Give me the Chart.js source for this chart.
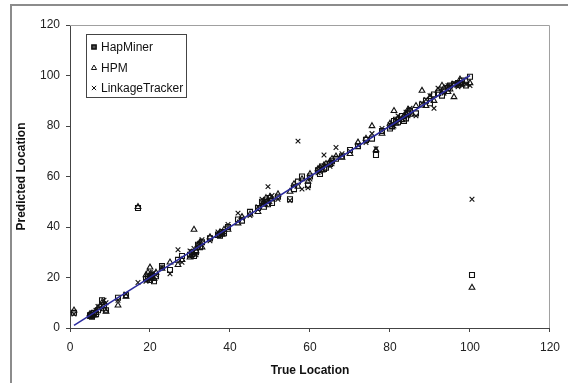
<!DOCTYPE html>
<html>
<head>
<meta charset="utf-8">
<script src="https://cdn.jsdelivr.net/npm/chart.js@4.4.0/dist/chart.umd.min.js"></script>
<style>
  html, body { margin: 0; padding: 0; background: #fff; overflow: hidden; }
  #wrap { width: 568px; height: 383px; position: relative; }
</style>
</head>
<body>
<div id="wrap"><canvas id="chart" width="568" height="383"></canvas></div>
<script>
// true locations of the simulated disease loci
const trueLocation = [1, 5, 5.2, 5.5, 6, 6.5, 7, 8, 8.5, 9,
  12, 14, 17, 19, 19.5, 20, 20.2, 20.5, 21, 21.5,
  23, 25, 27, 28, 30, 30.5, 31, 31.5, 32, 32.5,
  33, 35, 37, 37.5, 38, 38.5, 39.5, 42, 43, 45,
  47, 48, 48.5, 49, 49.5, 50, 50.5, 52, 55, 56,
  57, 58, 59.5, 60, 62, 62.5, 63, 63.5, 64, 65,
  65.5, 66.5, 68, 70, 72, 74, 75.5, 76.5, 78, 80,
  80.5, 81, 81.5, 82, 83, 83.5, 84, 84.5, 85, 86.5,
  88, 89, 90, 91, 92, 93, 93.5, 94.5, 95, 96,
  97, 97.5, 98, 99, 100, 100.5];

// predicted location per method
const hapMiner = [6, 5, 5, 4.5, 6, 5.5, 7, 11, 9, 7,
  12, 13, 47.5, 19.5, 20, 19, 20, 21, 18.5, 20.5,
  24.5, 23, 27, 28.5, 29, 30, 28.5, 30, 33, 32,
  34, 35.5, 37, 36.5, 38, 37.5, 40, 43, 42.5, 46,
  47.5, 50, 48, 50.5, 49, 51.5, 49.5, 52, 51, 55,
  58, 60, 56.5, 60, 62.5, 61, 64, 63, 63.5, 65,
  66, 67, 68, 70.5, 72, 74.5, 75, 68.5, 78, 79,
  80, 82, 82.5, 81.5, 84, 82, 83, 85, 86, 85,
  88.5, 90, 89, 92.5, 93, 92, 94, 95, 96, 96.5,
  97, 97, 98, 96, 99.5, 21];
const hpm = [7, 5.5, 4.5, 5, 5, 6, 8, 10, 7.5, 6.5,
  9, 12.5, 48, 21, 22, 24, 21.5, 20, 19.5, 22,
  23.5, 26, 25, 27, 28, 29, 39, 30.5, 33, 34,
  32, 36, 36.5, 38, 37, 39, 39, 41.5, 44, 45,
  46, 49, 50, 51.5, 50.5, 52, 51, 53, 54, 57,
  56, 59, 58, 61, 63, 63.5, 62.5, 64.5, 65, 66,
  67, 68, 67.5, 69, 73.5, 75, 80, 70.5, 77, 81,
  79.5, 86, 81, 83, 82.5, 84, 85, 86.5, 84.5, 88,
  94, 88, 91.5, 90, 94, 96, 95, 93.5, 94.5, 91.5,
  96, 98.5, 96.5, 98, 97, 16];
const linkageTracker = [5.5, 4.5, 5.5, 6, 5.5, 7, 8.5, 9, 11, 10,
  11, 13.5, 18, 18.5, 19, 21, 19.5, 20.5, 22, 21,
  24, 21.5, 31, 26, 30.5, 28.5, 31.5, 29, 32, 33.5,
  35, 34.5, 38, 37, 37.5, 38, 41, 45.5, 43.5, 44.5,
  48, 51, 49.5, 49, 56, 50, 52.5, 51, 50.5, 56.5,
  74, 55, 55.5, 59, 61.5, 62, 63, 68.5, 64.5, 64,
  65, 71.5, 69, 70, 72.5, 73.5, 77, 71, 79, 80.5,
  81, 80, 82, 84, 83, 83.5, 85.5, 84, 87, 84,
  89, 90.5, 92, 87, 95, 94, 93, 96, 96, 97,
  95.5, 97, 96, 96.5, 96, 51];

const fitLine = [[1, 1], [100, 100]];
const axisTicks = [0, 20, 40, 60, 80, 100, 120];

function pts(ys) {
  return trueLocation.map((x, i) => ({ x: x, y: ys[i] }));
}

const seriesNames = ['HapMiner', 'HPM', 'LinkageTracker'];
const seriesStyles = ['rect', 'triangle', 'crossRot'];
const font = '"Liberation Sans", Arial, sans-serif';

const frame = {
  id: 'frame',
  beforeDraw(chart) {
    const c = chart.ctx;
    c.save();
    c.strokeStyle = '#8c8c8c';
    c.lineWidth = 2;
    c.strokeRect(11, 5, 600, 420);
    c.restore();
  },
  afterDatasetsDraw(chart) {
    const c = chart.ctx;
    const a = chart.chartArea;
    c.save();
    c.strokeStyle = '#a0a0a0';
    c.lineWidth = 1;
    c.beginPath();
    c.moveTo(a.left, a.top + 0.5);
    c.lineTo(a.right - 0.5, a.top + 0.5);
    c.lineTo(a.right - 0.5, a.bottom);
    c.stroke();

    // legend box
    const lx = 86, ly = 34, lw = 100, lh = 63;
    c.fillStyle = '#fff';
    c.fillRect(lx, ly, lw, lh);
    c.strokeStyle = '#444';
    c.strokeRect(lx + 0.5, ly + 0.5, lw, lh);
    c.font = '12px ' + font;
    c.textBaseline = 'middle';
    const rows = [47, 68, 88];
    seriesNames.forEach((name, i) => {
      c.strokeStyle = '#111';
      c.fillStyle = i === 0 ? '#555' : 'transparent';
      c.lineWidth = i === 0 ? 1.5 : 1;
      Chart.helpers.drawPoint(c, { pointStyle: seriesStyles[i], radius: 3, borderWidth: c.lineWidth }, 94, rows[i]);
      c.fillStyle = '#111';
      c.fillText(name, 101, rows[i] + 0.5);
    });
    c.restore();
  }
};

function scatterSet(label, data, style) {
  return {
    type: 'scatter',
    label: label,
    data: data,
    pointStyle: style,
    pointRadius: style === 'rect' ? 3.5 : 3.3,
    pointBorderWidth: 1.1,
    pointBorderColor: '#111',
    pointBackgroundColor: 'rgba(0,0,0,0)',
    order: 1
  };
}

new Chart(document.getElementById('chart'), {
  data: {
    datasets: [
      scatterSet('HapMiner', pts(hapMiner), 'rect'),
      scatterSet('HPM', pts(hpm), 'triangle'),
      scatterSet('LinkageTracker', pts(linkageTracker), 'crossRot'),
      {
        type: 'line',
        label: 'fit',
        data: fitLine.map(p => ({ x: p[0], y: p[1] })),
        borderColor: '#2b2b9e',
        borderWidth: 1.5,
        pointRadius: 0,
        order: 0
      }
    ]
  },
  options: {
    responsive: false,
    animation: false,
    layout: { padding: { left: 0, right: 10, top: 25, bottom: 0 } },
    plugins: {
      legend: { display: false },
      tooltip: { enabled: false }
    },
    scales: {
      x: {
        type: 'linear',
        min: 0, max: 120,
        afterBuildTicks: s => { s.ticks = axisTicks.map(v => ({ value: v })); },
        afterFit: s => { s.height = 55; },
        grid: { drawOnChartArea: false, tickLength: 4, color: '#444' },
        border: { color: '#444', width: 1 },
        ticks: { color: '#222', padding: 8, font: { family: font, size: 12 } },
        title: {
          display: true, text: 'True Location', color: '#111',
          font: { family: font, size: 12, weight: 'bold' },
          padding: { top: 0, bottom: 5 }
        }
      },
      y: {
        type: 'linear',
        min: 0, max: 120,
        afterBuildTicks: s => { s.ticks = axisTicks.map(v => ({ value: v })); },
        afterFit: s => { s.width = 70; },
        grid: { drawOnChartArea: false, tickLength: 4, color: '#444' },
        border: { color: '#444', width: 1 },
        ticks: { color: '#222', padding: 6, font: { family: font, size: 12 } },
        title: {
          display: true, text: 'Predicted Location', color: '#111',
          font: { family: font, size: 12, weight: 'bold' },
          padding: { top: 14, bottom: 0 }
        }
      }
    }
  },
  plugins: [frame]
});
</script>
</body>
</html>
